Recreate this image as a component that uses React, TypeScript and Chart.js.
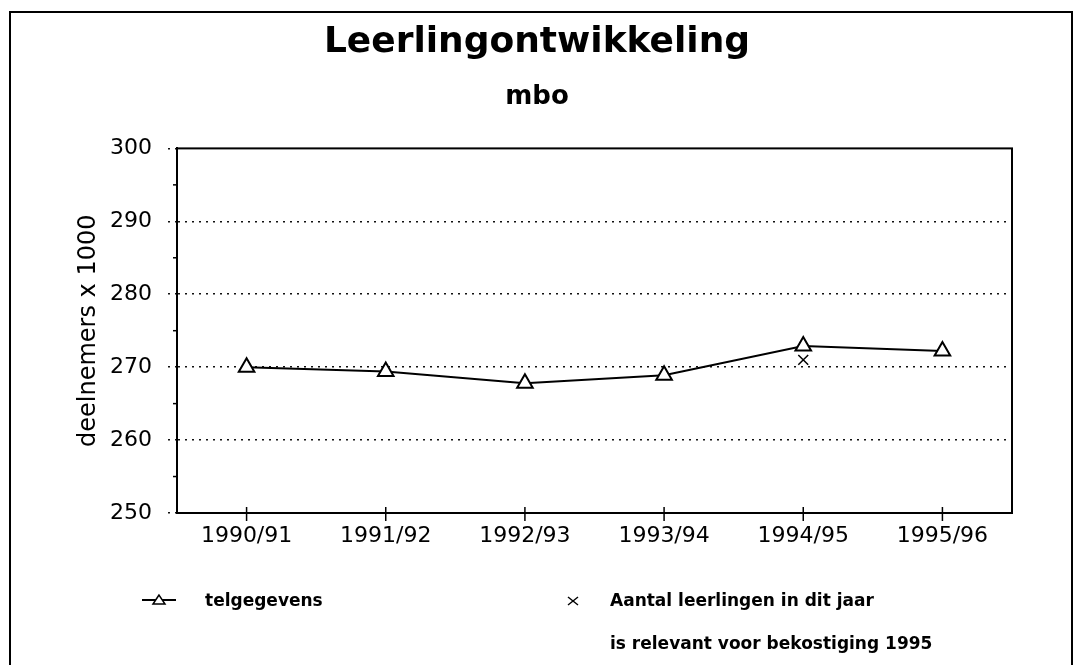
import React, { useEffect, useRef } from 'react';
import { Chart, registerables } from 'chart.js';

Chart.register(...registerables);

const categories = ['1990/91', '1991/92', '1992/93', '1993/94', '1994/95', '1995/96'];
const telgegevens = [270.0, 269.4, 267.8, 268.9, 272.9, 272.2];
const bekostiging: (number | null)[] = [null, null, null, null, 271.0, null];
const yMin = 250;
const yMax = 300;
const yStep = 10;
const yMinorTicks = [255, 265, 275, 285, 295];

const FONT = "'DejaVu Sans', 'Liberation Sans', Arial, sans-serif";

const framePlugin = {
  id: 'frameBox',
  afterDraw(chart: any) {
    const { ctx, chartArea } = chart;
    const { left, top, right, bottom } = chartArea;
    ctx.save();
    ctx.strokeStyle = '#000';
    ctx.lineWidth = 2;
    ctx.setLineDash([]);
    ctx.strokeRect(left, top, right - left, bottom - top);
    // minor y ticks
    ctx.lineWidth = 1.5;
    const ys = chart.scales.y;
    yMinorTicks.forEach((v) => {
      const y = ys.getPixelForValue(v);
      ctx.beginPath();
      ctx.moveTo(left - 4, y);
      ctx.lineTo(left, y);
      ctx.stroke();
    });
    // x category tick marks crossing the axis
    const xs = chart.scales.x;
    categories.forEach((_, i) => {
      const x = xs.getPixelForValue(i);
      ctx.beginPath();
      ctx.moveTo(x, bottom - 6);
      ctx.lineTo(x, bottom + 8);
      ctx.stroke();
    });
    ctx.restore();
  },
};

export default function App() {
  const ref = useRef<HTMLCanvasElement>(null);

  useEffect(() => {
    if (!ref.current) return;
    const chart = new Chart(ref.current, {
      type: 'line',
      data: {
        labels: categories,
        datasets: [
          {
            label: 'telgegevens',
            data: telgegevens,
            borderColor: '#000',
            borderWidth: 2,
            backgroundColor: '#fff',
            pointStyle: 'triangle',
            pointRadius: 9,
            pointBorderWidth: 2,
            pointBackgroundColor: '#fff',
            pointBorderColor: '#000',
            tension: 0,
            fill: false,
          },
          {
            label: 'Aantal leerlingen in dit jaar is relevant voor bekostiging 1995',
            data: bekostiging,
            showLine: false,
            pointStyle: 'crossRot',
            pointRadius: 7,
            pointBorderWidth: 1.5,
            pointBorderColor: '#000',
            borderColor: '#000',
          },
        ],
      },
      options: {
        animation: false,
        responsive: false,
        layout: { padding: { top: 0, left: 62, right: 62, bottom: 107 } },
        plugins: {
          legend: { display: false },
          tooltip: { enabled: false },
          title: {
            display: true,
            text: 'Leerlingontwikkeling',
            color: '#000',
            font: { family: FONT, size: 36, weight: 'bold' },
            padding: { top: 21, bottom: 0 },
          },
          subtitle: {
            display: true,
            text: 'mbo',
            color: '#000',
            font: { family: FONT, size: 26, weight: 'bold' },
            padding: { top: 17, bottom: 36 },
          },
        },
        scales: {
          x: {
            type: 'category',
            offset: true,
            grid: { display: false, drawTicks: false },
            border: { display: true, color: '#000', width: 2 },
            ticks: {
              color: '#000',
              font: { family: FONT, size: 22 },
              padding: 10,
              maxRotation: 0,
              autoSkip: false,
            },
            afterFit(scale: any) {
              scale.height = 45;
            },
          },
          y: {
            min: yMin,
            max: yMax,
            border: { display: true, color: '#000', width: 2, dash: [2, 5] },
            grid: {
              color: (c: any) =>
                c.tick && (c.tick.value === yMin || c.tick.value === yMax) ? 'rgba(0,0,0,0)' : '#111',
              lineWidth: 1.5,
              drawTicks: true,
              tickLength: 9,
              tickColor: '#111',
              tickBorderDash: [2, 5],
            },
            ticks: {
              stepSize: yStep,
              color: '#000',
              font: { family: FONT, size: 22 },
              padding: 16,
            },
            title: {
              display: true,
              text: 'deelnemers x 1000',
              color: '#000',
              font: { family: FONT, size: 24 },
              padding: { top: 12, bottom: 0 },
            },
            afterFit(scale: any) {
              scale.width = 115;
            },
          },
        },
      },
      plugins: [framePlugin],
    });
    return () => chart.destroy();
  }, []);

  const legendText: React.CSSProperties = {
    position: 'absolute',
    fontFamily: FONT,
    fontWeight: 'bold',
    fontSize: 17,
    lineHeight: '20px',
    color: '#000',
    whiteSpace: 'nowrap',
  };

  return (
    <div
      style={{
        position: 'fixed',
        left: 0,
        top: 0,
        width: 1074,
        height: 665,
        overflow: 'hidden',
        background: '#fff',
      }}
    >
      <div
        style={{
          position: 'absolute',
          left: 9,
          top: 11,
          width: 1064,
          height: 720,
          border: '2px solid #000',
          boxSizing: 'border-box',
        }}
      />
      <canvas
        ref={ref}
        width={1074}
        height={665}
        style={{ position: 'absolute', left: 0, top: 0, width: 1074, height: 665 }}
      />
      <svg
        width={36}
        height={16}
        style={{ position: 'absolute', left: 141, top: 592 }}
      >
        <line x1={1} y1={8} x2={35} y2={8} stroke="#000" strokeWidth={2} />
        <polygon points="18,3 12,12 24,12" fill="#fff" stroke="#000" strokeWidth={1.5} />
      </svg>
      <div style={{ ...legendText, left: 205, top: 590 }}>telgegevens</div>
      <svg width={12} height={12} style={{ position: 'absolute', left: 567, top: 595 }}>
        <line x1={1} y1={2} x2={11} y2={10} stroke="#000" strokeWidth={1.5} />
        <line x1={11} y1={2} x2={1} y2={10} stroke="#000" strokeWidth={1.5} />
      </svg>
      <div style={{ ...legendText, left: 610, top: 590 }}>Aantal leerlingen in dit jaar</div>
      <div style={{ ...legendText, left: 610, top: 633 }}>is relevant voor bekostiging 1995</div>
    </div>
  );
}
